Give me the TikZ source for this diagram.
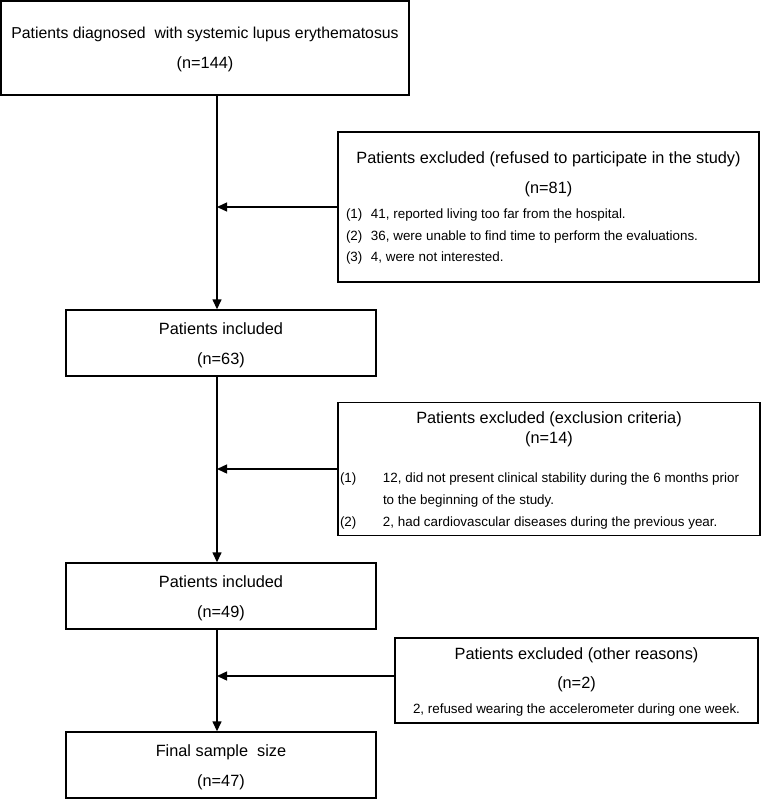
\documentclass[tikz,border=0pt]{standalone}
\usepackage{fontspec}
\setmainfont{Liberation Sans}
\usetikzlibrary{arrows.meta,positioning}
\newcommand{\itemfont}{\fontsize{13.4}{16}\selectfont}
\tikzset{
  mainbox/.style={draw,line width=1.4pt,inner sep=0pt,minimum width=310pt,minimum height=66pt,font=\fontsize{16.3}{30}\selectfont},
  exclbox/.style={draw,line width=1.4pt,inner sep=0pt,font=\fontsize{16.3}{30}\selectfont},
  flow/.style={-{Triangle[length=10pt,width=9pt]},line width=1.4pt}
}

\begin{document}
\begin{tikzpicture}[x=1pt,y=1pt]
  \useasboundingbox (0,0) rectangle (761,-799);
  % main column
  \node[mainbox,minimum width=408pt,minimum height=94pt] (diag) at (205,-48)
    {\begin{tabular}{@{}c@{}}{\fontsize{15.8}{30}\selectfont Patients diagnosed\ \ with systemic lupus erythematosus}\\(n=144)\end{tabular}};
  \node[mainbox] (inc1) at (221,-343) {\begin{tabular}{@{}c@{}}Patients included\\(n=63)\end{tabular}};
  \node[mainbox] (inc2) at (221,-596) {\begin{tabular}{@{}c@{}}Patients included\\(n=49)\end{tabular}};
  \node[mainbox] (final) at (221,-765) {\begin{tabular}{@{}c@{}}Final sample\ \ size\\(n=47)\end{tabular}};
  % exclusions
  \node[exclbox,minimum width=421pt,minimum height=150pt] (excl1) at (548.5,-207) {%
    \begin{tabular}{@{}p{25pt}@{}p{380pt}@{}}
      \multicolumn{2}{c}{Patients excluded (refused to participate in the study)}\\
      \multicolumn{2}{c}{(n=81)}\\[-5pt]
      \itemfont (1) & \itemfont 41, reported living too far from the hospital.\\[-8pt]
      \itemfont (2) & \itemfont 36, were unable to find time to perform the evaluations.\\[-9pt]
      \itemfont (3) & \itemfont 4, were not interested.
    \end{tabular}};
  \node[exclbox,minimum width=422pt,minimum height=132pt] (excl2) at (549,-469) {%
    \begin{tabular}{@{}p{43pt}@{}p{375pt}@{}}
      \multicolumn{2}{c}{Patients excluded (exclusion criteria)}\\[-10pt]
      \multicolumn{2}{c}{(n=14)}\\[9pt]
      \itemfont (1) & \itemfont 12, did not present clinical stability during the 6 months prior\\[-8pt]
      & \itemfont to the beginning of the study.\\[-8pt]
      \itemfont (2) & \itemfont 2, had cardiovascular diseases during the previous year.
    \end{tabular}};
  \node[exclbox,minimum width=363pt,minimum height=85pt] (excl3) at (576.5,-680.5) {%
    \begin{tabular}{@{}c@{}}
      Patients excluded (other reasons)\\[-1pt]
      (n=2)\\[-5pt]
      \itemfont 2, refused wearing the accelerometer during one week.
    \end{tabular}};
  % connectors
  \coordinate (spine) at (217,0);
  \draw[flow] (diag.south -| spine) -- (inc1.north -| spine);
  \draw[flow] (inc1.south -| spine) -- (inc2.north -| spine);
  \draw[flow] (inc2.south -| spine) -- (final.north -| spine);
  \draw[flow] (excl1.west) -- (excl1.west -| spine);
  \draw[flow] (excl2.west) -- (excl2.west -| spine);
  \draw[flow] ([yshift=4.5pt]excl3.west) -- ([yshift=4.5pt]excl3.west -| spine);
\end{tikzpicture}
\end{document}
